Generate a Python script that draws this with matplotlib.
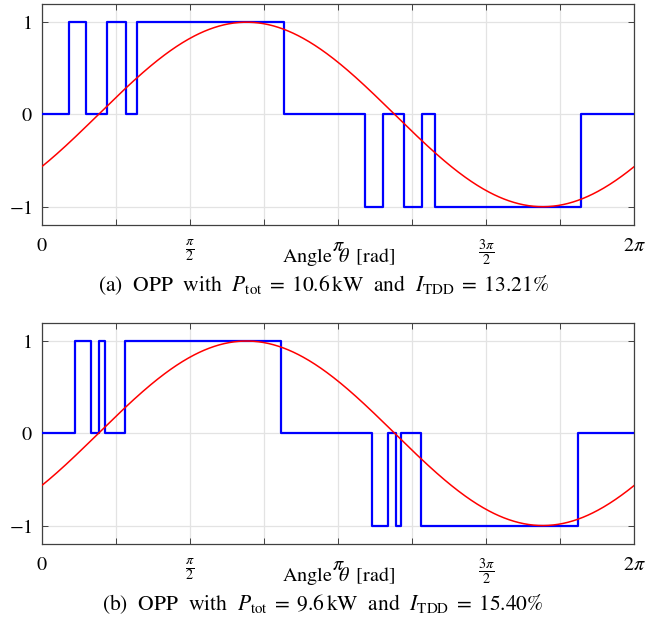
import matplotlib
matplotlib.use("Agg")
import matplotlib.pyplot as plt
import numpy as np

plt.rcParams['font.family'] = ['STIXGeneral', 'DejaVu Serif']
plt.rcParams['mathtext.fontset'] = 'stix'

# switching angles [rad] and the level after each switch
angles_a = [0.287, 0.464, 0.693, 0.888, 1.012, 2.569,
            3.431, 3.612, 3.839, 4.033, 4.164, 5.718]
levels_a = [1, 0, 1, 0, 1, 0, -1, 0, -1, 0, -1, 0]
angles_b = [0.350, 0.517, 0.608, 0.669, 0.878, 2.540,
            3.499, 3.665, 3.754, 3.813, 4.019, 5.689]
levels_b = [1, 0, 1, 0, 1, 0, -1, 0, -1, 0, -1, 0]
start_level = 0

# fundamental reference: unit amplitude, peak at this angle
ref_peak = 2.17

captions = [r'(a)  OPP  with  $P_{\mathrm{tot}}\;=\;10.6\,\mathrm{kW}$  and  $I_{\mathrm{TDD}}\;=\;13.21\%$',
            r'(b)  OPP  with  $P_{\mathrm{tot}}\;=\;9.6\,\mathrm{kW}$  and  $I_{\mathrm{TDD}}\;=\;15.40\%$']
xticks = np.arange(9) * np.pi / 4
xlabels = ['$0$', '', r'$\frac{\pi}{2}$', '', r'$\pi$', '', r'$\frac{3\pi}{2}$', '', r'$2\pi$']
yticks = [-1, 0, 1]
ylabels = ['$-1$', '$0$', '$1$']

fig = plt.figure(figsize=(6.46, 6.22), dpi=100)
boxes = [[0.065, 0.638, 0.917, 0.356], [0.065, 0.1254, 0.917, 0.356]]
caption_y = [0.532, 0.0195]

th = np.linspace(0, 2 * np.pi, 600)
for box, angles, levels, cap, cy in zip(boxes, [angles_a, angles_b], [levels_a, levels_b],
                                        captions, caption_y):
    ax = fig.add_axes(box)
    x = [0] + angles + [2 * np.pi]
    y = [start_level] + levels + [levels[-1]]
    ax.plot(x, y, color='#0000ff', lw=1.6, drawstyle='steps-post', zorder=3)
    ax.plot(th, np.cos(th - ref_peak), color='#ff0000', lw=1.1, zorder=4)
    ax.set_xlim(0, 2 * np.pi)
    ax.set_ylim(-1.2, 1.2)
    ax.set_xticks(xticks)
    ax.set_xticklabels(xlabels)
    ax.set_yticks(yticks)
    ax.set_yticklabels(ylabels)
    ax.grid(True, color='#e3e3e3', lw=0.9)
    ax.set_axisbelow(True)
    ax.tick_params(direction='in', top=True, right=True, length=4.5, width=0.7,
                   color='#404040', labelsize=14.5)
    ax.tick_params(axis='x', pad=9)
    ax.tick_params(axis='y', pad=7)
    for s in ax.spines.values():
        s.set_color('#404040')
        s.set_linewidth(0.9)
    ax.set_xlabel(r'Angle $\,\theta\,$ [rad]', fontsize=14.5)
    ax.xaxis.set_label_coords(0.5, -0.095)
    fig.text(0.5, cy, cap, ha='center', va='baseline', fontsize=15.5)

fig.savefig('out.png', dpi=100)
